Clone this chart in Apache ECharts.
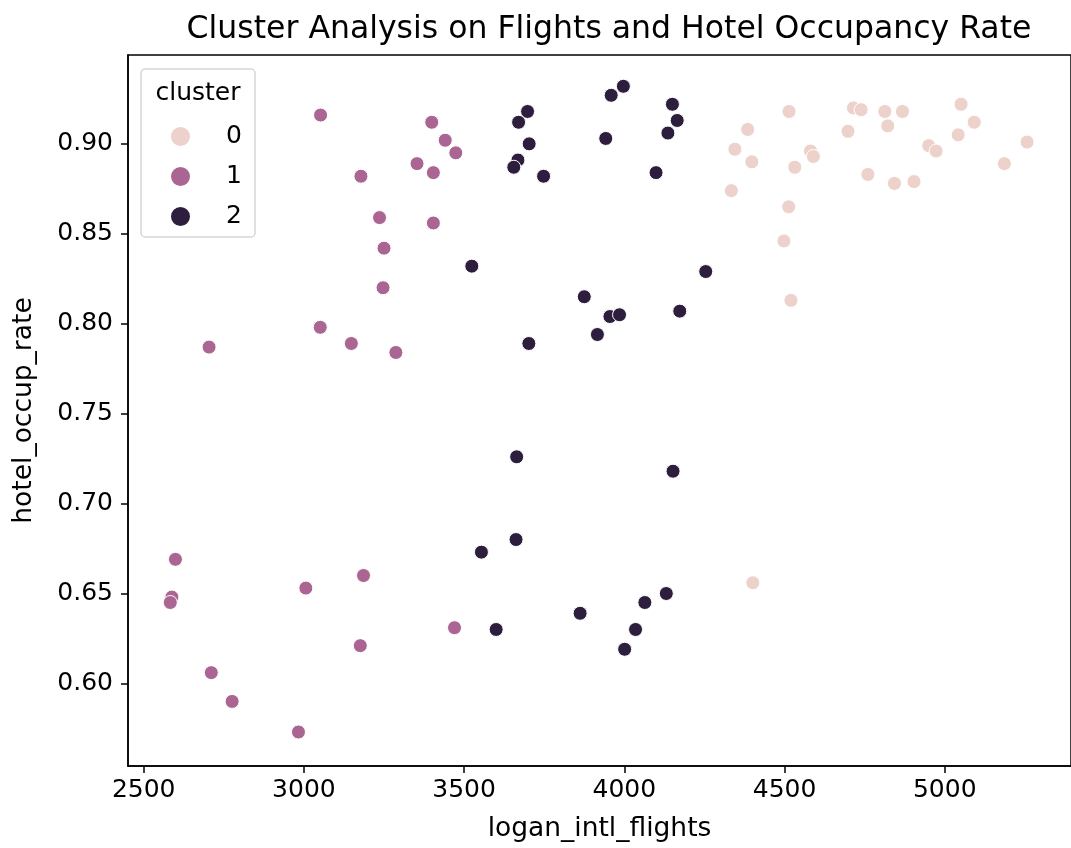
<!DOCTYPE html>
<html>
<head>
<meta charset="utf-8">
<title>Cluster Analysis on Flights and Hotel Occupancy Rate</title>
<script src="https://cdn.jsdelivr.net/npm/echarts@6/dist/echarts.min.js"></script>
<style>
  html, body { margin: 0; padding: 0; background: #fff; }
  #chart { width: 1071px; height: 848px; }
</style>
</head>
<body>
<div id="chart"></div>
<script>
// cluster 0
const cluster0Flights = [4514, 4385, 4345, 4398, 4334, 4581, 4590, 4532, 4513, 4498, 4520, 4715, 4739, 4698,
  4813, 4868, 4822, 4760, 4843, 4904, 4950, 4973, 5051, 5092, 5042, 5257, 5186, 4401]
const cluster0Occup = [0.918, 0.908, 0.897, 0.890, 0.874, 0.896, 0.893, 0.887, 0.865, 0.846, 0.813, 0.920, 0.919, 0.907,
  0.918, 0.918, 0.910, 0.883, 0.878, 0.879, 0.899, 0.896, 0.922, 0.912, 0.905, 0.901, 0.889, 0.656]

// cluster 1
const cluster1Flights = [3052, 3353, 3178, 3236, 3250, 3247, 3051, 3148, 3287, 2704, 3399, 3441, 3474, 3404, 3404,
  2599, 2588, 2583, 3006, 3186, 3470, 3176, 2711, 2776, 2983]
const cluster1Occup = [0.916, 0.889, 0.882, 0.859, 0.842, 0.820, 0.798, 0.789, 0.784, 0.787, 0.912, 0.902, 0.895, 0.884, 0.856,
  0.669, 0.648, 0.645, 0.653, 0.660, 0.631, 0.621, 0.606, 0.590, 0.573]

// cluster 2
const cluster2Flights = [3698, 3670, 3703, 3668, 3655, 3748, 3997, 3959, 3942, 4150, 4165, 4136, 4099, 3524, 4254,
  3875, 3955, 3985, 3916, 4173, 3702, 3664, 4152, 3662, 3554, 3600, 3862, 4131, 4064, 4035, 4001]
const cluster2Occup = [0.918, 0.912, 0.900, 0.891, 0.887, 0.882, 0.932, 0.927, 0.903, 0.922, 0.913, 0.906, 0.884, 0.832, 0.829,
  0.815, 0.804, 0.805, 0.794, 0.807, 0.789, 0.726, 0.718, 0.680, 0.673, 0.630, 0.639, 0.650, 0.645, 0.630, 0.619]

const clusterNames = ['0', '1', '2']
const clusterColors = ['#edd1cb', '#ab6592', '#2d1e3e']
const xTicks = [2500, 3000, 3500, 4000, 4500, 5000]
const yTicks = [0.60, 0.65, 0.70, 0.75, 0.80, 0.85, 0.90]

const font = 'DejaVu Sans'

function pairs(xs, ys) {
  return xs.map((x, i) => [x, ys[i]])
}

const seriesData = [
  pairs(cluster0Flights, cluster0Occup),
  pairs(cluster1Flights, cluster1Occup),
  pairs(cluster2Flights, cluster2Occup)
]

const chart = echarts.init(document.getElementById('chart'), null, { renderer: 'canvas' })

chart.setOption({
  backgroundColor: '#ffffff',
  animation: false,
  title: {
    text: 'Cluster Analysis on Flights and Hotel Occupancy Rate',
    left: 604,
    textAlign: 'center',
    top: 9,
    textStyle: { fontFamily: font, fontSize: 31.5, fontWeight: 'normal', color: '#000' }
  },
  grid: {
    left: 128,
    top: 55,
    right: -10,
    bottom: 81,
    show: true,
    borderColor: '#000',
    borderWidth: 1.5,
    backgroundColor: 'transparent'
  },
  legend: {
    data: clusterNames,
    orient: 'vertical',
    left: 164,
    top: 119,
    itemWidth: 21,
    itemHeight: 21,
    itemGap: 15,
    icon: 'circle',
    textStyle: { fontFamily: font, fontSize: 25, color: '#000', padding: [0, 0, 0, 30] }
  },
  graphic: [
    {
      type: 'rect',
      shape: { x: 141, y: 69, width: 114, height: 168, r: 4 },
      style: { fill: 'rgba(255,255,255,0.8)', stroke: '#d6d6d6', lineWidth: 1.5 },
      z: 2
    },
    {
      type: 'text',
      x: 198,
      y: 93,
      style: { text: 'cluster', fontFamily: font, fontSize: 25, fill: '#000', align: 'center', verticalAlign: 'middle' },
      z: 3
    }
  ],
  xAxis: {
    type: 'value',
    min: 2451,
    max: 5394,
    name: 'logan_intl_flights',
    nameLocation: 'middle',
    nameGap: 50,
    nameTextStyle: { fontFamily: font, fontSize: 26.5, color: '#000' },
    splitLine: { show: false },
    axisLine: { show: true, onZero: false, lineStyle: { color: '#000', width: 1.5 } },
    axisTick: { show: true, length: 7, lineStyle: { color: '#000', width: 1.5 }, customValues: xTicks },
    axisLabel: {
      fontFamily: font, fontSize: 25, color: '#000', margin: 12,
      customValues: xTicks,
      formatter: v => String(v)
    }
  },
  yAxis: {
    type: 'value',
    min: 0.5541,
    max: 0.9494,
    name: 'hotel_occup_rate',
    nameLocation: 'middle',
    nameGap: 90,
    nameRotate: 90,
    nameTextStyle: { fontFamily: font, fontSize: 26.5, color: '#000' },
    splitLine: { show: false },
    axisLine: { show: true, onZero: false, lineStyle: { color: '#000', width: 1.5 } },
    axisTick: { show: true, length: 7, lineStyle: { color: '#000', width: 1.5 }, customValues: yTicks },
    axisLabel: {
      fontFamily: font, fontSize: 25, color: '#000', margin: 15,
      customValues: yTicks,
      formatter: v => v.toFixed(2)
    }
  },
  series: clusterNames.map((name, i) => ({
    name: name,
    type: 'scatter',
    data: seriesData[i],
    symbolSize: 14,
    itemStyle: { color: clusterColors[i], borderColor: '#ffffff', borderWidth: 1, opacity: 1 },
    z: 1
  }))
})
</script>
</body>
</html>
